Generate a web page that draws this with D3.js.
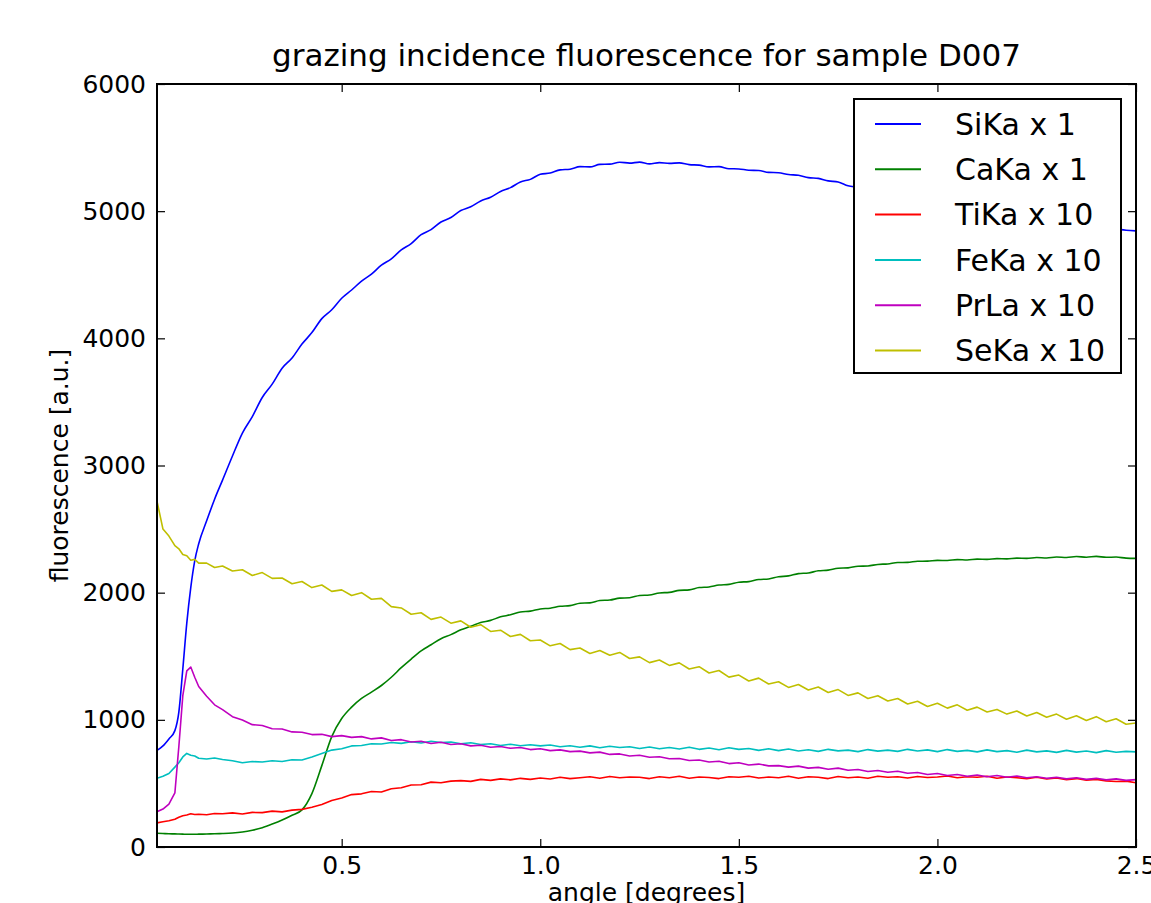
<!DOCTYPE html>
<html>
<head>
<meta charset="utf-8">
<script src="https://cdn.jsdelivr.net/npm/d3@7"></script>
<style>
  body { margin: 0; background: #fff; }
  svg { display: block; }
  text { font-family: "DejaVu Sans", sans-serif; fill: #000; }
</style>
</head>
<body>
<script>
var angles = [0.035, 0.05, 0.065, 0.08, 0.09, 0.1, 0.11, 0.12, 0.13, 0.14,
  0.16, 0.18, 0.2, 0.225, 0.25, 0.275, 0.3, 0.325, 0.35, 0.375,
  0.4, 0.425, 0.45, 0.475, 0.5, 0.525, 0.55, 0.575, 0.6, 0.625,
  0.65, 0.675, 0.7, 0.725, 0.75, 0.775, 0.8, 0.825, 0.85, 0.875,
  0.9, 0.925, 0.95, 0.975, 1.0, 1.025, 1.05, 1.075, 1.1, 1.125,
  1.15, 1.175, 1.2, 1.225, 1.25, 1.275, 1.3, 1.325, 1.35, 1.375,
  1.4, 1.425, 1.45, 1.475, 1.5, 1.525, 1.55, 1.575, 1.6, 1.625,
  1.65, 1.675, 1.7, 1.725, 1.75, 1.775, 1.8, 1.825, 1.85, 1.875,
  1.9, 1.925, 1.95, 1.975, 2.0, 2.025, 2.05, 2.075, 2.1, 2.125,
  2.15, 2.175, 2.2, 2.225, 2.25, 2.275, 2.3, 2.325, 2.35, 2.375,
  2.4, 2.425, 2.45, 2.475, 2.5];

var siKa = [760, 795, 850, 915, 1060, 1400, 1760, 2040, 2250, 2385,
  2565, 2735, 2885, 3075, 3255, 3385, 3535, 3640, 3765, 3845,
  3955, 4045, 4155, 4225, 4315, 4380, 4450, 4505, 4575, 4625,
  4695, 4745, 4815, 4855, 4915, 4950, 5005, 5035, 5080, 5110,
  5155, 5185, 5230, 5250, 5290, 5300, 5325, 5330, 5350, 5348,
  5368, 5370, 5385, 5378, 5386, 5372, 5382, 5376, 5380, 5366,
  5362, 5348, 5350, 5334, 5332, 5322, 5320, 5305, 5302, 5288,
  5282, 5264, 5258, 5238, 5230, 5200, 5188, 5170, 5162, 5142,
  5132, 5115, 5102, 5090, 5075, 5062, 5050, 5035, 5022, 5008,
  4995, 4980, 4968, 4955, 4942, 4930, 4918, 4905, 4895, 4885,
  4875, 4865, 4858, 4850, 4845];

var caKa = [108, 106, 104, 103, 102, 101, 100, 100, 100, 101,
  102, 104, 106, 110, 118, 132, 152, 180, 212, 250,
  292, 420, 640, 868, 1010, 1100, 1168, 1218, 1270, 1335,
  1410, 1478, 1542, 1590, 1638, 1670, 1708, 1735, 1765, 1782,
  1810, 1826, 1848, 1855, 1872, 1878, 1893, 1898, 1917, 1920,
  1938, 1942, 1957, 1960, 1978, 1982, 1998, 2002, 2018, 2022,
  2040, 2045, 2060, 2065, 2082, 2087, 2103, 2108, 2125, 2132,
  2150, 2155, 2172, 2177, 2192, 2195, 2208, 2210, 2222, 2226,
  2237, 2238, 2247, 2248, 2254, 2253, 2260, 2257, 2264, 2262,
  2268, 2266, 2272, 2270, 2276, 2273, 2280, 2277, 2284, 2279,
  2285, 2278, 2280, 2272, 2270];

var tiKa = [190, 198, 206, 218, 234, 246, 252, 262, 256, 258,
  254, 264, 262, 268, 260, 272, 270, 282, 276, 290,
  296, 312, 334, 366, 385, 412, 418, 436, 432, 458,
  466, 488, 490, 510, 505, 518, 522, 516, 532, 524,
  536, 528, 540, 532, 542, 535, 548, 538, 545, 552,
  540, 555, 544, 550, 548, 538, 552, 545, 556, 540,
  550, 546, 538, 552, 548, 556, 542, 550, 545, 556,
  540, 552, 548, 538, 554, 545, 550, 540, 556, 548,
  552, 542, 555, 546, 550, 558, 545, 552, 548, 556,
  540, 550, 545, 538, 548, 535, 542, 530, 538, 526,
  532, 520, 515, 518, 505];

var feKa = [540, 556, 578, 628, 662, 708, 736, 722, 716, 698,
  692, 700, 688, 678, 662, 672, 668, 678, 672, 686,
  684, 708, 735, 762, 772, 795, 798, 812, 810, 822,
  815, 828, 818, 832, 822, 826, 812, 820, 806, 812,
  798, 808, 796, 804, 795, 802, 788, 796, 785, 795,
  780, 792, 782, 788, 775, 786, 772, 782, 770, 785,
  768, 778, 765, 780, 768, 775, 760, 772, 758, 770,
  755, 765, 752, 768, 756, 762, 750, 766, 754, 762,
  752, 768, 755, 764, 750, 766, 752, 760, 748, 764,
  750, 758, 745, 762, 748, 756, 744, 760, 746, 755,
  742, 758, 745, 752, 748];

var prLa = [278, 298, 338, 425, 790, 1190, 1385, 1415, 1335, 1262,
  1185, 1118, 1080, 1025, 998, 962, 955, 930, 928, 905,
  902, 884, 886, 868, 876, 862, 868, 850, 858, 838,
  844, 826, 832, 814, 824, 806, 812, 795, 800, 784,
  790, 776, 782, 766, 772, 758, 764, 750, 754, 740,
  746, 728, 732, 716, 722, 706, 710, 694, 696, 680,
  684, 668, 674, 656, 662, 645, 652, 638, 640, 628,
  636, 620, 626, 612, 620, 604, 610, 594, 602, 588,
  596, 580, 586, 570, 578, 562, 570, 556, 566, 552,
  562, 548, 558, 544, 552, 540, 548, 536, 545, 532,
  540, 528, 536, 524, 530];

var seKa = [2720, 2500, 2445, 2370, 2345, 2300, 2290, 2255, 2262, 2232,
  2232, 2198, 2210, 2170, 2180, 2135, 2158, 2112, 2115, 2070,
  2088, 2040, 2060, 2010, 2022, 1978, 2000, 1948, 1955, 1890,
  1880, 1830, 1842, 1790, 1808, 1760, 1778, 1728, 1748, 1695,
  1705, 1655, 1672, 1622, 1628, 1582, 1600, 1552, 1565, 1522,
  1545, 1508, 1530, 1482, 1495, 1450, 1470, 1428, 1448, 1400,
  1418, 1368, 1388, 1336, 1352, 1305, 1328, 1282, 1300, 1255,
  1278, 1235, 1258, 1215, 1238, 1192, 1212, 1168, 1190, 1148,
  1168, 1125, 1146, 1105, 1130, 1092, 1118, 1075, 1100, 1062,
  1082, 1045, 1070, 1030, 1058, 1020, 1045, 1005, 1032, 995,
  1025, 985, 1008, 965, 975];

var seriesNames = ["SiKa x 1", "CaKa x 1", "TiKa x 10", "FeKa x 10", "PrLa x 10", "SeKa x 10"];
var seriesColors = ["#0000ff", "#008000", "#ff0000", "#00bfbf", "#bf00bf", "#bfbf00"];
var xTicks = [0.5, 1.0, 1.5, 2.0, 2.5];
var yTicks = [0, 1000, 2000, 3000, 4000, 5000, 6000];

(function() {
  var margin = { top: 84, left: 157, right: 15, bottom: 56 },
    W = 1151, H = 903,
    width = W - margin.left - margin.right,
    height = H - margin.top - margin.bottom;

  var series = [siKa, caKa, tiKa, feKa, prLa, seKa];

  var svg = d3.select("body").append("svg")
    .attr("width", W)
    .attr("height", H);

  var g = svg.append("g")
    .attr("transform", "translate(" + margin.left + "," + margin.top + ")");

  var x = d3.scaleLinear().domain([0.035, 2.5]).range([0, width]);
  var y = d3.scaleLinear().domain([0, 6000]).range([height, 0]);

  svg.append("defs").append("clipPath").attr("id", "plotclip")
    .append("rect").attr("width", width).attr("height", height);

  var line = d3.line()
    .x(function(d, i) { return x(angles[i]); })
    .y(function(d) { return y(d); });

  var lines = g.append("g").attr("clip-path", "url(#plotclip)");
  series.forEach(function(s, k) {
    lines.append("path")
      .datum(s)
      .attr("fill", "none")
      .attr("stroke", seriesColors[k])
      .attr("stroke-width", 1.6)
      .attr("stroke-linejoin", "round")
      .attr("d", line.curve(k < 2 ? d3.curveMonotoneX : d3.curveLinear));
  });

  // axes, ticks pointing inward like matplotlib classic
  var bottom = g.append("g")
    .attr("transform", "translate(0," + height + ")")
    .call(d3.axisBottom(x).tickValues(xTicks).tickFormat(d3.format(".1f"))
      .tickSizeInner(-8).tickSizeOuter(0).tickPadding(9));
  var left = g.append("g")
    .call(d3.axisLeft(y).tickValues(yTicks).tickFormat(d3.format("d"))
      .tickSizeInner(-8).tickSizeOuter(0).tickPadding(11));
  var top = g.append("g")
    .call(d3.axisTop(x).tickValues(xTicks).tickFormat("")
      .tickSizeInner(-8).tickSizeOuter(0));
  var right = g.append("g")
    .attr("transform", "translate(" + width + ",0)")
    .call(d3.axisRight(y).tickValues(yTicks).tickFormat("")
      .tickSizeInner(-8).tickSizeOuter(0));

  [bottom, left, top, right].forEach(function(a) {
    a.select(".domain").remove();
    a.selectAll("line").attr("stroke", "#000").attr("stroke-width", 1.2);
    a.selectAll("text").style("font-family", "DejaVu Sans").style("font-size", "25px").attr("fill", "#000");
  });

  g.append("rect")
    .attr("width", width)
    .attr("height", height)
    .attr("fill", "none")
    .attr("stroke", "#000")
    .attr("stroke-width", 2);

  // legend
  var leg = g.append("g").attr("transform", "translate(697,15)");
  leg.append("rect")
    .attr("width", 267)
    .attr("height", 274)
    .attr("fill", "#fff")
    .attr("stroke", "#000")
    .attr("stroke-width", 2);
  seriesNames.forEach(function(name, k) {
    var yy = 25 + k * 45.3;
    leg.append("line")
      .attr("x1", 21).attr("x2", 67)
      .attr("y1", yy).attr("y2", yy)
      .attr("stroke", seriesColors[k])
      .attr("stroke-width", 2);
    leg.append("text")
      .attr("x", 101)
      .attr("y", yy)
      .attr("dy", "0.36em")
      .style("font-size", "30px")
      .text(name);
  });

  svg.append("text")
    .attr("x", margin.left + width / 2)
    .attr("y", 66)
    .attr("text-anchor", "middle")
    .style("font-size", "31px")
    .text("grazing incidence fluorescence for sample D007");

  svg.append("text")
    .attr("x", margin.left + width / 2)
    .attr("y", 901)
    .attr("text-anchor", "middle")
    .style("font-size", "25px")
    .text("angle [degrees]");

  svg.append("text")
    .attr("transform", "translate(68," + (margin.top + height / 2) + ") rotate(-90)")
    .attr("text-anchor", "middle")
    .style("font-size", "25px")
    .text("fluorescence [a.u.]");
})();
</script>
</body>
</html>
